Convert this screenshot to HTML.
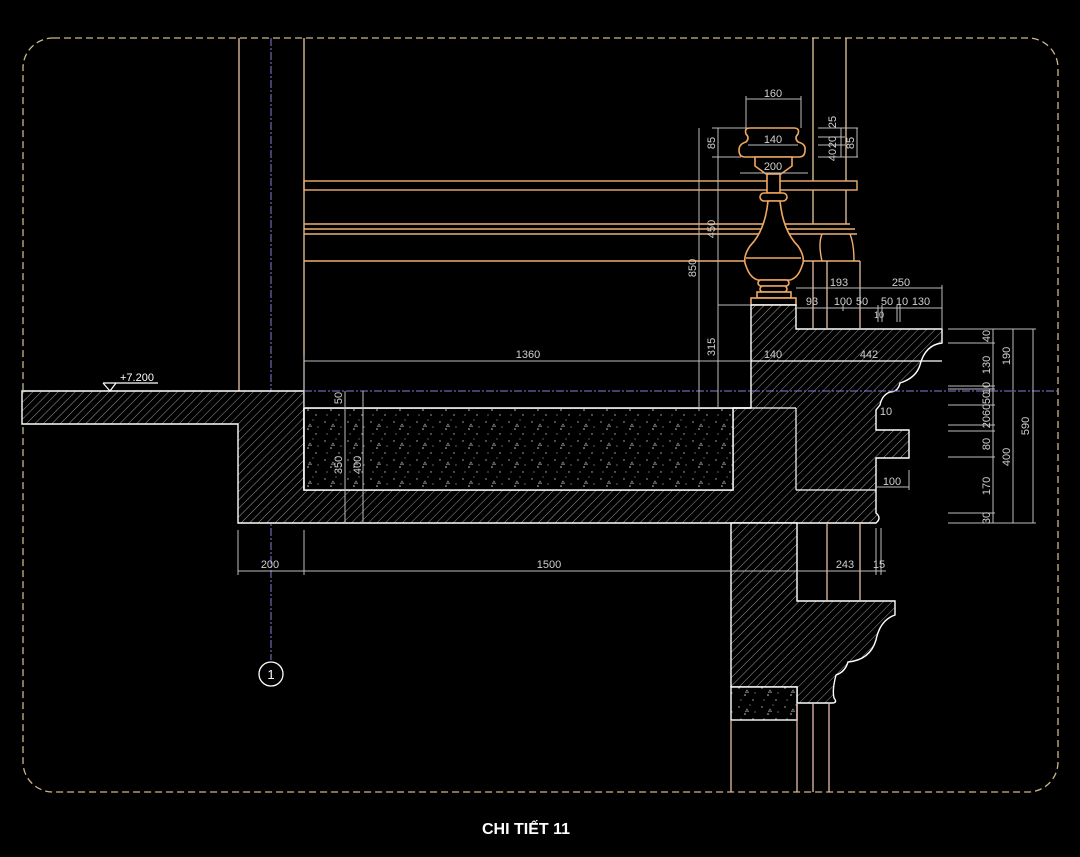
<!DOCTYPE html>
<html><head><meta charset="utf-8"><style>
html,body{margin:0;padding:0;background:#000;}
svg{display:block}
text{font-family:"Liberation Sans",sans-serif;fill:#cfcfcf;font-size:11px;}
</style></head><body>
<svg width="1080" height="857" viewBox="0 0 1080 857" xmlns="http://www.w3.org/2000/svg">
<defs>
<pattern id="h" width="6" height="6" patternUnits="userSpaceOnUse" patternTransform="rotate(45)">
<rect width="6" height="6" fill="#000"/><line x1="0" y1="0" x2="0" y2="6" stroke="#9a9a9a" stroke-width="1"/>
</pattern>
<pattern id="c" width="23" height="19" patternUnits="userSpaceOnUse">
<rect width="23" height="19" fill="#000"/>
<circle cx="3" cy="4" r="0.7" fill="#bbb"/><circle cx="14" cy="2" r="0.6" fill="#999"/><circle cx="9" cy="11" r="0.8" fill="#ccc"/>
<circle cx="19" cy="9" r="0.6" fill="#aaa"/><circle cx="5" cy="16" r="0.6" fill="#aaa"/><circle cx="17" cy="16" r="0.7" fill="#bbb"/>
<path d="M11 6l1.5 2.5h-3z" fill="none" stroke="#aaa" stroke-width="0.6"/>
</pattern>
</defs>

<!-- border -->
<rect x="23" y="38" width="1035" height="754" rx="30" fill="none" stroke="#c9b889" stroke-width="1.3" stroke-dasharray="7,4"/>

<!-- left verticals -->
<g stroke="#e8c8a0" stroke-width="1.3">
<line x1="239" y1="38" x2="239" y2="391"/>
<line x1="304" y1="38" x2="304" y2="391"/>
<line x1="813" y1="38" x2="813" y2="181"/>
<line x1="846" y1="38" x2="846" y2="181"/>
<line x1="813" y1="190" x2="813" y2="224"/>
<line x1="846" y1="190" x2="846" y2="224"/>
</g>
<line x1="271" y1="38" x2="271" y2="660" stroke="#8a7ad8" stroke-width="1" stroke-dasharray="8,2,2,2"/>
<circle cx="271" cy="674" r="12" fill="none" stroke="#fff" stroke-width="1.3"/>
<text x="271" y="679" text-anchor="middle" style="fill:#fff;font-size:13px">1</text>

<!-- rails -->
<g stroke="#f0b070" stroke-width="1.4" fill="none">
<rect x="304" y="181" width="553" height="9"/>
<line x1="304" y1="224" x2="850" y2="224"/>
<line x1="304" y1="229" x2="855" y2="229"/>
<line x1="304" y1="234" x2="857" y2="234"/>
<line x1="304" y1="261" x2="860" y2="261"/>
<path d="M822 234 q-4 10 0 27 M850 234 q4 10 4 27"/>
</g>

<!-- baluster -->
<g stroke="#f0a860" stroke-width="1.6" fill="#000">
<path d="M752 128 h42 q6 0 4 6 q-4 4 0 8 h0 q8 2 7 8 q0 7 -6 7 h-54 q-6 0 -6 -7 q0 -6 7 -8 q4 -4 0 -8 q-2 -6 4 -6z"/>
<path d="M755 157 h37 v9 l-11 8 h-15 l-11 -8z"/>
<rect x="767" y="174" width="13" height="19"/>
<rect x="760" y="193" width="27" height="8" rx="4"/>
<path d="M768 201 q-3 30 -18 45 q-8 12 -4 20 q4 12 12 14 h32 q8 -2 12 -14 q4 -8 -4 -20 q-15 -15 -18 -45z"/>
<line x1="746" y1="258" x2="801" y2="258"/>
<rect x="758" y="280" width="31" height="6" rx="3"/>
<rect x="760" y="286" width="27" height="6" rx="3"/>
<rect x="757" y="292" width="34" height="6"/>
<rect x="751" y="298" width="45" height="7"/>
</g>

<!-- floor left band -->
<path d="M22 391 H304 V490 H733 V408 H751 V305 H796 V329 H942 V343 Q925 345 920 365 Q916 378 900 383 Q898 392 890 392 Q882 395 880 405 L876 410 V430 H909 V458 H876 V513 Q882 518 876 523 H238 V424 H22Z" fill="url(#h)" stroke="#fff" stroke-width="1.4"/>
<rect x="304" y="408" width="429" height="82" fill="url(#c)" stroke="#fff" stroke-width="1.4"/>
<rect x="304" y="391" width="429" height="17" fill="#000"/>
<line x1="304" y1="408" x2="751" y2="408" stroke="#fff" stroke-width="1.4"/>
<line x1="304" y1="391" x2="304" y2="490" stroke="#fff" stroke-width="1.4"/>
<g stroke="#fff" stroke-width="1.2" fill="none">
<line x1="796" y1="408" x2="796" y2="490"/>
<line x1="733" y1="408" x2="796" y2="408"/>
<line x1="796" y1="490" x2="876" y2="490"/>
<line x1="751" y1="361" x2="942" y2="361"/>
</g>
<line x1="304" y1="391" x2="1058" y2="391" stroke="#8a7ad8" stroke-width="1" stroke-dasharray="8,2,2,2"/>

<!-- column below -->
<path d="M731 523 H797 V601 H895 V615 Q880 620 876 640 Q870 660 848 662 Q845 672 836 675 Q832 690 834 698 Q838 703 832 703 H797 V687 H731Z" fill="url(#h)" stroke="#fff" stroke-width="1.4"/>
<rect x="731" y="687" width="66" height="33" fill="url(#c)" stroke="#fff" stroke-width="1.4"/>
<g stroke="#e8c0a0" stroke-width="1.3">
<line x1="731" y1="720" x2="731" y2="792"/>
<line x1="797" y1="703" x2="797" y2="792"/>
<line x1="813" y1="703" x2="813" y2="792"/>
<line x1="829" y1="703" x2="829" y2="792"/>
<line x1="827" y1="523" x2="827" y2="601"/>
<line x1="860" y1="523" x2="860" y2="601"/>
<line x1="813" y1="261" x2="813" y2="329"/>
<line x1="827" y1="261" x2="827" y2="329"/>
<line x1="860" y1="261" x2="860" y2="329"/>
</g>

<!-- level mark -->
<g stroke="#fff" stroke-width="1.2" fill="none">
<path d="M103 383 H158 M103 383 L110 391 L116 383"/>
</g>
<text x="120" y="381" style="fill:#fff">+7.200</text>

<!-- dimensions -->
<g stroke="#bdbdbd" stroke-width="1" fill="none">
<line x1="746" y1="99" x2="801" y2="99"/><line x1="746" y1="96" x2="746" y2="128"/><line x1="801" y1="96" x2="801" y2="128"/>
<line x1="748" y1="145" x2="798" y2="145"/>
<line x1="740" y1="173" x2="808" y2="173"/>
<line x1="718" y1="128" x2="718" y2="157"/><line x1="712" y1="128" x2="748" y2="128"/><line x1="712" y1="157" x2="741" y2="157"/>
<line x1="699" y1="128" x2="699" y2="408"/><line x1="718" y1="157" x2="718" y2="408"/>
<line x1="718" y1="305" x2="751" y2="305"/>
<line x1="818" y1="128" x2="858" y2="128"/><line x1="818" y1="137" x2="845" y2="137"/><line x1="818" y1="145" x2="845" y2="145"/><line x1="818" y1="157" x2="858" y2="157"/>
<line x1="841" y1="128" x2="841" y2="157"/><line x1="857" y1="128" x2="857" y2="157"/>
<line x1="304" y1="361" x2="751" y2="361"/><line x1="304" y1="355" x2="304" y2="408"/>
<line x1="796" y1="288" x2="942" y2="288"/><line x1="796" y1="308" x2="942" y2="308"/>
<line x1="942" y1="285" x2="942" y2="329"/><line x1="860" y1="285" x2="860" y2="308"/>
<line x1="827" y1="305" x2="827" y2="311"/><line x1="843" y1="305" x2="843" y2="311"/>
<line x1="878" y1="305" x2="878" y2="322"/><line x1="882" y1="305" x2="882" y2="322"/>
<line x1="897" y1="305" x2="897" y2="322"/><line x1="900" y1="305" x2="900" y2="322"/>
<line x1="993" y1="329" x2="993" y2="523"/><line x1="1013" y1="329" x2="1013" y2="523"/><line x1="1033" y1="329" x2="1033" y2="523"/>
<line x1="948" y1="329" x2="1036" y2="329"/><line x1="948" y1="343" x2="995" y2="343"/>
<line x1="948" y1="386" x2="995" y2="386"/><line x1="948" y1="389" x2="995" y2="389"/>
<line x1="948" y1="405" x2="995" y2="405"/><line x1="948" y1="425" x2="995" y2="425"/><line x1="948" y1="431" x2="995" y2="431"/>
<line x1="948" y1="457" x2="995" y2="457"/><line x1="948" y1="513" x2="995" y2="513"/><line x1="948" y1="523" x2="1036" y2="523"/>
<line x1="345" y1="391" x2="345" y2="523"/><line x1="363" y1="391" x2="363" y2="523"/>
<line x1="238" y1="571" x2="826" y2="571"/><line x1="826" y1="571" x2="886" y2="571"/>
<line x1="238" y1="530" x2="238" y2="575"/><line x1="304" y1="530" x2="304" y2="575"/>
<line x1="876" y1="528" x2="876" y2="575"/><line x1="881" y1="528" x2="881" y2="575"/>
<line x1="876" y1="487" x2="909" y2="487"/><line x1="909" y1="470" x2="909" y2="490"/>
</g>
<text x="773" y="97" text-anchor="middle">160</text>
<text x="773" y="143" text-anchor="middle">140</text>
<text x="773" y="170" text-anchor="middle">200</text>
<text x="839" y="286" text-anchor="middle">193</text>
<text x="901" y="286" text-anchor="middle">250</text>
<text x="812" y="305" text-anchor="middle">93</text>
<text x="843" y="305" text-anchor="middle">100</text>
<text x="862" y="305" text-anchor="middle">50</text>
<text x="887" y="305" text-anchor="middle">50</text>
<text x="902" y="305" text-anchor="middle">10</text>
<text x="921" y="305" text-anchor="middle">130</text>
<text x="879" y="318" text-anchor="middle" style="font-size:9px">10</text>
<text x="528" y="358" text-anchor="middle">1360</text>
<text x="773" y="358" text-anchor="middle">140</text>
<text x="869" y="358" text-anchor="middle">442</text>
<text x="892" y="485" text-anchor="middle">100</text>
<text x="886" y="415" text-anchor="middle">10</text>
<text x="270" y="568" text-anchor="middle">200</text>
<text x="549" y="568" text-anchor="middle">1500</text>
<text x="845" y="568" text-anchor="middle">243</text>
<text x="879" y="568" text-anchor="middle">15</text>
<g>
<text transform="translate(715,143) rotate(-90)" text-anchor="middle">85</text>
<text transform="translate(715,229) rotate(-90)" text-anchor="middle">450</text>
<text transform="translate(696,268) rotate(-90)" text-anchor="middle">850</text>
<text transform="translate(715,347) rotate(-90)" text-anchor="middle">315</text>
<text transform="translate(836,122) rotate(-90)" text-anchor="middle">25</text>
<text transform="translate(836,142) rotate(-90)" text-anchor="middle">20</text>
<text transform="translate(836,155) rotate(-90)" text-anchor="middle">40</text>
<text transform="translate(854,143) rotate(-90)" text-anchor="middle">85</text>
<text transform="translate(342,398) rotate(-90)" text-anchor="middle">50</text>
<text transform="translate(342,465) rotate(-90)" text-anchor="middle">350</text>
<text transform="translate(361,465) rotate(-90)" text-anchor="middle">400</text>
<text transform="translate(990,336) rotate(-90)" text-anchor="middle">40</text>
<text transform="translate(990,365) rotate(-90)" text-anchor="middle">130</text>
<text transform="translate(990,388) rotate(-90)" text-anchor="middle">10</text>
<text transform="translate(990,398) rotate(-90)" text-anchor="middle">50</text>
<text transform="translate(990,416) rotate(-90)" text-anchor="middle">2060</text>
<text transform="translate(990,444) rotate(-90)" text-anchor="middle">80</text>
<text transform="translate(990,486) rotate(-90)" text-anchor="middle">170</text>
<text transform="translate(990,518) rotate(-90)" text-anchor="middle">30</text>
<text transform="translate(1010,356) rotate(-90)" text-anchor="middle">190</text>
<text transform="translate(1010,457) rotate(-90)" text-anchor="middle">400</text>
<text transform="translate(1029,426) rotate(-90)" text-anchor="middle">590</text>
</g>

<text x="526" y="834" text-anchor="middle" style="fill:#fff;font-size:16px;font-weight:bold">CHI TIẾT 11</text>
</svg>
</body></html>
